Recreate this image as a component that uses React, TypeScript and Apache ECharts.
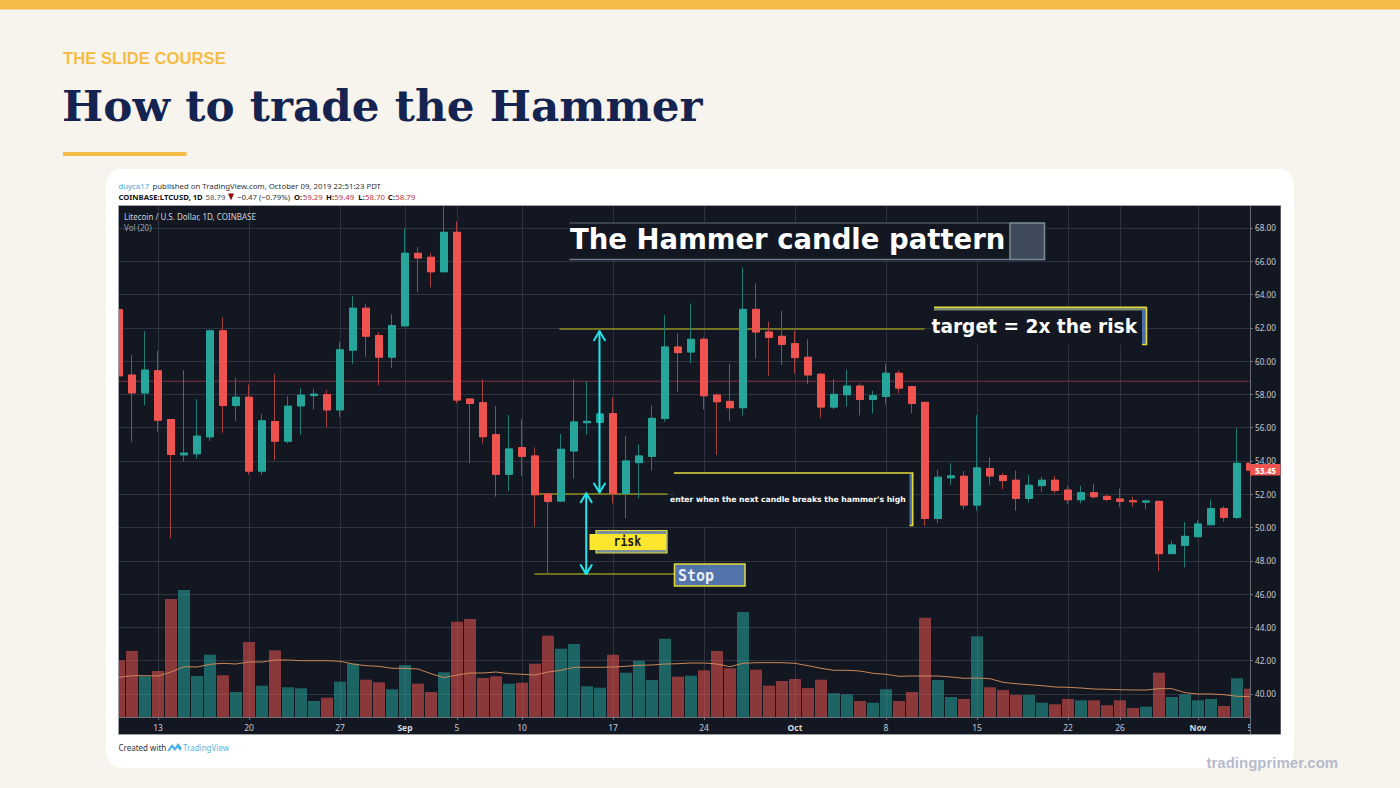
import React, { useEffect, useRef } from "react";
import * as echarts from "echarts";

// Daily LTCUSD candles, 10 Aug to 5 Nov
const dayRange = (month: string, from: number, to: number) => {
  const days: string[] = [];
  for (let d = from; d <= to; d++) days.push(month + " " + d);
  return days;
};
const categories = [
  ...dayRange("Aug", 10, 31),
  ...dayRange("Sep", 1, 30),
  ...dayRange("Oct", 1, 31),
  ...dayRange("Nov", 1, 5),
];

const opens = [
  63.1, 59.16, 58.09, 59.42, 56.49, 54.37, 54.43, 55.45, 61.82, 57.33, 57.83, 53.39, 56.37, 55.19, 57.31, 57.93,
  57.99, 57.07, 60.66, 63.18, 61.54, 60.24, 62.12, 66.48, 66.24, 65.37, 67.74, 57.72, 57.5, 55.58, 53.2, 54.8,
  54.3, 52.01, 51.59, 54.6, 56.3, 56.32, 56.84, 52.05, 53.9, 54.28, 56.56, 60.85, 60.55, 61.31, 57.96, 57.58,
  57.2, 63.11, 61.75, 61.49, 61.05, 60.23, 59.21, 57.24, 57.98, 58.5, 57.7, 57.88, 59.27, 58.46, 57.52, 50.55,
  52.99, 53.08, 51.35, 53.54, 53.12, 52.84, 51.75, 52.52, 52.84, 52.25, 51.67, 52.09, 51.87, 51.71, 51.61, 51.53,
  51.57, 48.43, 48.93, 49.45, 50.17, 51.13, 50.61, 53.86,
];
const closes = [
  59.12, 58.09, 59.46, 56.45, 54.39, 54.47, 55.49, 61.82, 57.33, 57.83, 53.39, 56.41, 55.19, 57.29, 57.95, 58.01,
  57.07, 60.68, 63.18, 61.5, 60.24, 62.14, 66.48, 66.2, 65.37, 67.74, 57.66, 57.46, 55.46, 53.2, 54.72, 54.28,
  51.97, 51.57, 54.7, 56.34, 56.38, 56.82, 52.05, 54.0, 54.3, 56.56, 60.85, 60.51, 61.31, 57.92, 57.56, 57.2,
  63.11, 61.75, 61.43, 61.01, 60.21, 59.17, 57.24, 58.0, 58.5, 57.7, 57.92, 59.27, 58.38, 57.46, 50.55, 53.02,
  53.1, 51.35, 53.58, 53.1, 52.82, 51.75, 52.54, 52.84, 52.23, 51.67, 52.09, 51.85, 51.69, 51.57, 51.55, 51.59,
  48.43, 48.95, 49.47, 50.21, 51.13, 50.61, 53.86, 53.45,
];
const lows = [
  59.1, 55.15, 57.35, 55.75, 49.34, 53.97, 54.15, 55.2, 55.69, 56.41, 53.19, 53.15, 54.05, 55.05, 55.57, 57.09,
  56.01, 56.65, 59.82, 60.26, 58.55, 59.58, 62.1, 64.14, 64.43, 65.37, 57.46, 53.86, 55.06, 51.85, 52.2, 53.1,
  50.05, 47.25, 51.59, 52.94, 55.58, 55.5, 51.45, 50.55, 51.75, 53.42, 56.36, 58.14, 59.87, 57.1, 54.36, 56.4,
  56.72, 60.15, 59.11, 59.77, 59.25, 58.62, 56.6, 57.1, 57.26, 56.74, 56.86, 57.38, 58.06, 56.86, 50.09, 50.25,
  52.56, 51.09, 51.01, 52.56, 52.3, 51.01, 51.49, 52.15, 52.05, 51.41, 51.45, 51.75, 51.57, 51.21, 51.25, 51.09,
  47.39, 48.43, 47.61, 49.45, 50.17, 50.35, 50.51, 53.4,
];
const highs = [
  63.1, 60.36, 61.8, 60.62, 56.5, 59.46, 57.71, 61.9, 62.62, 59.0, 58.59, 56.81, 59.22, 57.89, 58.37, 58.35,
  58.25, 61.14, 63.93, 63.46, 61.74, 62.82, 67.98, 66.86, 66.52, 69.3, 68.38, 57.76, 58.91, 57.3, 56.76, 56.5,
  54.82, 52.09, 55.62, 58.91, 58.77, 58.6, 57.82, 55.5, 55.0, 57.32, 62.77, 61.67, 63.47, 61.43, 58.06, 59.83,
  65.62, 64.67, 62.37, 63.01, 61.81, 61.31, 59.3, 58.93, 59.47, 58.66, 58.22, 59.83, 59.43, 58.46, 57.52, 53.46,
  53.86, 53.4, 56.76, 54.22, 53.26, 53.42, 53.16, 53.06, 53.1, 52.5, 52.5, 52.62, 51.97, 52.35, 51.85, 51.69,
  51.61, 49.21, 50.33, 50.45, 51.69, 51.29, 55.96, 53.9,
];
const volumes = [
  56.7, 66, 40.7, 46, 118, 127, 41, 62.3, 41.7, 25, 75, 31.3, 66.7, 29.7, 28.7, 16,
  19.3, 35.3, 53.3, 37.3, 34.7, 27.7, 52, 33.3, 25, 44.7, 95.3, 98, 39, 40.7, 33.3, 34.3,
  53.3, 81.3, 68.3, 73, 30.7, 29.3, 62.3, 44.3, 56.3, 37, 78.3, 40.3, 41.3, 46.7, 66, 48.7,
  105, 47.3, 31.3, 36, 38, 29, 37.3, 23.7, 22.7, 16, 14.3, 27.7, 16, 25, 99.3, 37,
  20, 18, 80.7, 29.7, 27, 22, 22, 14.3, 12.7, 18, 16.7, 16.7, 11.7, 16.7, 9, 10.3,
  44.3, 20, 22.7, 16.7, 18, 11, 38.7, 28.3,
];
const volumeMa = [
  39.7, 41.3, 41.3, 41, 45, 50.3, 50, 52.7, 53.7, 53, 55, 55, 57, 57, 56.3, 56.3,
  56.3, 55.7, 53, 51.3, 50.7, 48.7, 48.7, 48, 43.3, 39.3, 42, 44, 44, 45, 43.3, 42.7,
  42, 45, 46.7, 49.7, 49.7, 49.7, 50, 50.7, 51.7, 52, 53, 53.3, 54, 54, 53, 50.3,
  53.7, 54.3, 54.3, 54.3, 53.7, 51.3, 48.7, 46.7, 46.7, 46, 43.7, 42.7, 40.7, 41, 41, 41,
  40, 38.7, 39, 38.3, 34.7, 33.3, 32.3, 31.3, 30, 29.7, 29, 28, 27.7, 27.3, 27, 27,
  28.3, 28.3, 24.3, 23, 23, 22.3, 20.7, 20.3,
];

const priceTicks = [40, 42, 44, 46, 48, 50, 52, 54, 56, 58, 60, 62, 64, 66, 68];
const tickIndexes = [3, 10, 17, 22, 26, 31, 38, 45, 52, 59, 66, 73, 77, 83, 87];
const tickLabels = ["13", "20", "27", "Sep", "5", "10", "17", "24", "Oct", "8", "15", "22", "26", "Nov", "5"];
const monthLabels = ["Sep", "Oct", "Nov"];

const lastClose = [[0, 58.79], [87, 58.79]];
const targetLine = [[33.92, 61.93], [61.92, 61.93]];
const entryLine = [[32, 52.01], [42.15, 52.01]];
const stopLine = [[32, 47.2], [42.7, 47.2]];
const upperArrow = [[36.96, 52.1], [36.96, 61.8]];
const upperArrowTop = [[36.54, 61.26], [36.96, 61.8], [37.38, 61.26]];
const upperArrowBottom = [[36.54, 52.64], [36.96, 52.1], [37.38, 52.64]];
const lowerArrow = [[35.94, 47.2], [35.94, 52.06]];
const lowerArrowTop = [[35.52, 51.52], [35.94, 52.06], [36.36, 51.52]];
const lowerArrowBottom = [[35.52, 47.74], [35.94, 47.2], [36.36, 47.74]];

const UP = "#26a69a";
const DOWN = "#ef5350";
const PANEL = "#131722";
const GOLD = "#f5bd47";
const YELLOW = "#e4da3e";
const OLIVE = "#8f8f1e";
const BLUE = "#4a6ea8";
const CYAN = "#1fe6e8";
const SANS = "'Noto Sans', sans-serif";
const BOLD_SANS = "'DejaVu Sans', sans-serif";
const MONO = "'DejaVu Sans Mono', monospace";

const text = (x: number, y: number, str: string, fontSize: number, fill: string, extra: any = {}) => {
  const { fontWeight, fontFamily, z, scaleX } = extra;
  return {
    type: "text",
    x,
    y,
    z: z ?? 20,
    scaleX: scaleX ?? 1,
    style: {
      text: str,
      fontSize,
      fill,
      fontWeight: fontWeight || "normal",
      fontFamily: fontFamily || SANS,
      align: "left",
      verticalAlign: "middle",
    },
  };
};
const rect = (x: number, y: number, width: number, height: number, fill: string, z = 10, extra: any = {}) => ({
  type: "rect",
  z,
  shape: { x, y, width, height, r: extra.r || 0 },
  style: { fill, stroke: extra.stroke, lineWidth: extra.lineWidth || 0 },
});
const seg = (x1: number, y1: number, x2: number, y2: number, stroke: string, lineWidth = 1, z = 11) => ({
  type: "line",
  z,
  shape: { x1, y1, x2, y2 },
  style: { stroke, lineWidth },
});

const pageGraphics = [
  rect(0, 0, 1400, 9.5, GOLD, -5),
  rect(63, 152, 123.5, 4, GOLD, -5),
  rect(106, 169, 1188, 599, "#ffffff", -5, { r: 16 }),
  rect(118.5, 205.5, 1162, 529, PANEL, -4, { stroke: "#9ea2a9", lineWidth: 1 }),
  text(63, 58, "THE SLIDE COURSE", 16.65, GOLD, { fontWeight: "bold", fontFamily: "'Liberation Sans', sans-serif" }),
  text(62, 105.5, "How to trade the Hammer", 43.7, "#14234f", { fontWeight: "bold", fontFamily: "'DejaVu Serif', serif" }),
  text(1206.5, 762, "tradingprimer.com", 15, "#b6bacb", { fontWeight: "bold", fontFamily: "'Liberation Sans', sans-serif" }),

  // TradingView header
  text(118.5, 185.5, "duyca17", 7.8, "#3ea8d8"),
  text(152.5, 185.5, "published on TradingView.com, October 09, 2019 22:51:23 PDT", 7.8, "#333333"),
  text(118.5, 197, "COINBASE:LTCUSD, 1D", 7.7, "#111111", { fontWeight: "bold" }),
  text(205.5, 197, "58.79", 7.8, "#555555"),
  { type: "polygon", z: 20, shape: { points: [[228, 193.5], [234, 193.5], [231, 200.5]] }, style: { fill: "#8b0f0f" } },
  text(237, 197, "−0.47 (−0.79%)", 7.8, "#333333"),
  text(294, 197, "O:", 7.7, "#111111", { fontWeight: "bold" }),
  text(302.7, 197, "59.29", 7.8, "#c4303a"),
  text(326, 197, "H:", 7.7, "#111111", { fontWeight: "bold" }),
  text(334.3, 197, "59.49", 7.8, "#c4303a"),
  text(358.3, 197, "L:", 7.7, "#111111", { fontWeight: "bold" }),
  text(365, 197, "58.70", 7.8, "#c4303a"),
  text(387.7, 197, "C:", 7.7, "#111111", { fontWeight: "bold" }),
  text(395.3, 197, "58.79", 7.8, "#c4303a"),
  text(124, 216.5, "Litecoin / U.S. Dollar, 1D, COINBASE", 8, "#d1d4dc"),
  text(124, 227.5, "Vol (20)", 8, "#9ba0aa"),

  // candles are not cut at the grid edge by the library, so the edges get covered
  rect(107, 206, 11, 511, "#ffffff", 6),
  seg(118.5, 205.5, 118.5, 734.5, "#9ea2a9", 1, 6),
  rect(1250.5, 206, 30, 528, PANEL, 6),
  seg(1250.5, 206, 1250.5, 734, "#666b75", 1, 6),
  rect(1250, 464, 30.5, 11.5, DOWN, 20),
  text(1255, 470, "53.45", 8.2, "#ffffff", { fontWeight: "bold", z: 21 }),

  // footer
  text(118.5, 747, "Created with", 8, "#333333"),
  { type: "polygon", z: 20, shape: { points: [[167, 751], [172, 744], [175, 747.5], [178, 743], [182, 748], [180, 751], [177.5, 747.5], [175, 751], [172, 747.5], [169.5, 751]] }, style: { fill: "#4db3e6" } },
  text(183, 747, "TradingView", 8, "#58b7e4"),

  // title box
  rect(569.5, 223, 440.5, 36.5, PANEL),
  rect(1010, 223, 34.5, 36.5, "#3e4a5a", 10, { stroke: "#7e8c96", lineWidth: 1.5 }),
  seg(569.5, 223, 1010, 223, "#5f6d78", 1),
  seg(569.5, 259.5, 1010, 259.5, "#6f7d88", 1.5),
  text(570, 239, "The Hammer candle pattern", 27.5, "#ffffff", { fontWeight: "bold", fontFamily: BOLD_SANS }),

  // target box
  rect(931, 309, 216, 36, PANEL),
  rect(934, 307, 213, 3.5, "#7c8a6f"),
  seg(934, 307.2, 1146.5, 307.2, YELLOW, 1.6),
  rect(1142, 310, 4, 34, BLUE),
  { type: "polyline", z: 11, shape: { points: [[1146.5, 307.2], [1146.5, 344.5], [1142, 344.5]] }, style: { stroke: YELLOW, lineWidth: 1.6, fill: "none" } },
  text(931.5, 326.5, "target = 2x the risk", 18.6, "#ffffff", { fontWeight: "bold", fontFamily: BOLD_SANS }),

  // entry box
  rect(674, 473, 239, 53, PANEL),
  rect(909.5, 474, 3, 51.5, BLUE),
  { type: "polyline", z: 11, shape: { points: [[674, 473], [912.7, 473], [912.7, 525.5], [909.5, 525.5]] }, style: { stroke: YELLOW, lineWidth: 1.6, fill: "none" } },
  text(670, 499, "enter when the next candle breaks the hammer's high", 7.7, "#ffffff", { fontWeight: "bold", fontFamily: BOLD_SANS }),

  // risk and stop labels
  rect(596, 530.5, 71, 22.5, "#7b8e9c", 10, { stroke: YELLOW, lineWidth: 1.2 }),
  rect(589.5, 534, 76.5, 16, "#fde72e", 11),
  text(613.5, 541.5, "risk", 13.5, "#1d1a10", { fontWeight: "bold", fontFamily: MONO, scaleX: 0.85 }),
  rect(674.5, 564, 70.5, 22, "#5274ab", 10, { stroke: YELLOW, lineWidth: 1.5 }),
  text(678, 575.5, "Stop", 15, "#e9eef7", { fontWeight: "bold", fontFamily: MONO }),
];

const annotation = (data: number[][], color: string, width: number, type = "solid", z = 7) => ({
  type: "line",
  xAxisIndex: 1,
  yAxisIndex: 0,
  data,
  symbol: "none",
  silent: true,
  z,
  lineStyle: { color, width, type, cap: "round" },
});

const App: React.FC = () => {
  const chartRef = useRef<HTMLDivElement | null>(null);

  useEffect(() => {
    if (chartRef.current) {
      const chartInstance = echarts.init(chartRef.current, undefined, { renderer: "svg" });

      const fullCandles = categories.map((_, i) => [opens[i], closes[i], lows[i], highs[i]]);
      // wicks are dimmer than bodies, so the bodies go in a second series on top
      const bodies = categories.map((_, i) => [
        opens[i],
        closes[i],
        Math.min(opens[i], closes[i]),
        Math.max(opens[i], closes[i]),
      ]);
      const volumeBars = volumes.map((v, i) => ({
        value: v,
        itemStyle: { color: closes[i] >= opens[i] ? "rgba(38,166,154,0.55)" : "rgba(239,83,80,0.55)" },
      }));

      const option = {
        animation: false,
        backgroundColor: "#f7f4ee",
        textStyle: { fontFamily: SANS },
        graphic: { elements: pageGraphics },
        grid: { left: 119, top: 206, width: 1131, height: 511, containLabel: false },
        xAxis: [
          {
            type: "category",
            data: categories,
            boundaryGap: false,
            z: 0,
            axisLine: { lineStyle: { color: "#6a6f79", width: 1 } },
            axisTick: {
              length: 3,
              lineStyle: { color: "#6a6f79" },
              interval: (i: number) => tickIndexes.includes(i),
            },
            splitLine: {
              show: true,
              lineStyle: { color: "#2e3340", width: 1 },
              interval: (i: number) => tickIndexes.includes(i),
            },
            axisLabel: {
              color: "#c8cbd2",
              fontSize: 8.5,
              margin: 6,
              showMaxLabel: true,
              interval: (i: number) => tickIndexes.includes(i),
              formatter: (_: string, i: number) => {
                const label = tickLabels[tickIndexes.indexOf(i)];
                return monthLabels.includes(label) ? "{m|" + label + "}" : label;
              },
              rich: { m: { fontWeight: "bold", fontSize: 8.5, color: "#d6d9df" } },
            },
          },
          { type: "value", show: false, min: 0, max: 87, splitLine: { show: false } },
        ],
        yAxis: [
          // grid lines stay under the candles, labels go on their own axis above the price strip
          {
            type: "value",
            position: "right",
            min: 38.613,
            max: 69.322,
            z: 0,
            axisLine: { show: false },
            axisTick: { show: false, customValues: priceTicks },
            splitLine: { show: true, lineStyle: { color: "#2e3340", width: 1 } },
            axisLabel: { show: false, customValues: priceTicks },
          },
          { type: "value", show: false, min: 0, max: 511, splitLine: { show: false } },
          {
            type: "value",
            position: "right",
            min: 38.613,
            max: 69.322,
            z: 8,
            axisLine: { show: false },
            axisTick: { show: true, length: 3, lineStyle: { color: "#6a6f79" }, customValues: priceTicks },
            splitLine: { show: false },
            axisLabel: {
              color: "#c8cbd2",
              fontSize: 8.2,
              margin: 5,
              customValues: priceTicks,
              formatter: (v: number) => v.toFixed(2),
            },
          },
        ],
        series: [
          {
            type: "bar",
            xAxisIndex: 0,
            yAxisIndex: 1,
            data: volumeBars,
            barWidth: 12,
            silent: true,
            z: 2,
          },
          {
            type: "line",
            xAxisIndex: 0,
            yAxisIndex: 1,
            data: volumeMa,
            symbol: "none",
            silent: true,
            z: 3,
            lineStyle: { color: "#c9875a", width: 1 },
          },
          annotation(lastClose, "#9c3339", 1, "dotted", 3),
          annotation(targetLine, OLIVE, 1.5, "solid", 3),
          annotation(entryLine, OLIVE, 1.5, "solid", 3),
          annotation(stopLine, OLIVE, 1.5, "solid", 3),
          {
            type: "candlestick",
            xAxisIndex: 0,
            yAxisIndex: 0,
            data: fullCandles,
            barWidth: 7.5,
            silent: true,
            z: 4,
            itemStyle: {
              color: "#1f7d75",
              color0: "#a8403f",
              borderColor: "#1f7d75",
              borderColor0: "#a8403f",
              borderWidth: 1,
            },
          },
          {
            type: "candlestick",
            xAxisIndex: 0,
            yAxisIndex: 0,
            data: bodies,
            barWidth: 7.5,
            silent: true,
            z: 5,
            itemStyle: {
              color: UP,
              color0: DOWN,
              borderColor: UP,
              borderColor0: DOWN,
              borderWidth: 1,
            },
          },
          annotation(upperArrow, CYAN, 2),
          annotation(upperArrowTop, CYAN, 2),
          annotation(upperArrowBottom, CYAN, 2),
          annotation(lowerArrow, CYAN, 2),
          annotation(lowerArrowTop, CYAN, 2),
          annotation(lowerArrowBottom, CYAN, 2),
        ],
      };

      chartInstance.setOption(option);

      return () => {
        chartInstance.dispose();
      };
    }
  }, []);

  return (
    <div
      ref={chartRef}
      style={{ position: "absolute", left: 0, top: 0, width: "1400px", height: "788px" }}
    />
  );
};

export default App;
